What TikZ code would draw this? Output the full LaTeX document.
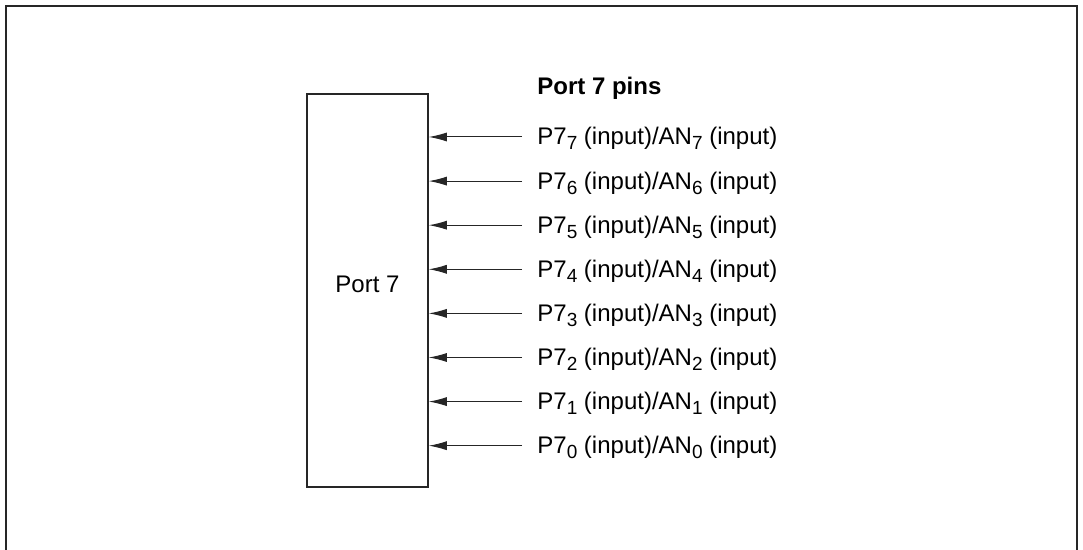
\documentclass[tikz,border=0pt]{standalone}
\usepackage{fontspec}
\setmainfont{Liberation Sans}
\usetikzlibrary{arrows.meta}
\newcommand{\pinsub}[1]{\raisebox{-2.5pt}{\fontsize{9.5}{10}\selectfont #1}}
\tikzset{
  frameline/.style={line width=1pt, draw=black!85},
  portbox/.style={draw=black!85, line width=0.75pt, minimum width=60.5pt, minimum height=196.5pt, inner sep=0pt},
  pinarrow/.style={draw=black!85, line width=0.5pt, -{Latex[length=9pt,width=4.5pt]}},
  pinlabel/.style={anchor=base west, inner sep=0pt, font=\fontsize{12}{14}\selectfont},
}
\begin{document}
\begin{tikzpicture}[x=0.5pt,y=-0.5pt]
\useasboundingbox (0,0) rectangle (1083,550);
\draw[frameline] (6,550) -- (6,6) -- (1077,6) -- (1077,550);
\node[portbox] (port) at (367.5,290.5) {};
\node[anchor=base, inner sep=0pt, font=\fontsize{12}{14}\selectfont] (portlabel) at (367.5,293) {Port 7};
\node[pinlabel, font=\fontsize{12}{14}\selectfont\bfseries] (title) at (537,95) {Port 7 pins};
\foreach \i in {7,...,0} {
  \pgfmathsetmacro{\yy}{137+(7-\i)*44.1}
  \coordinate (a\i) at (522,\yy);
  \node[pinlabel] (p\i) at (537,\yy+8) {P7\pinsub{\i} (input)/AN\pinsub{\i} (input)};
  \draw[pinarrow] (a\i) -- (port.east |- a\i);
}
\end{tikzpicture}
\end{document}
